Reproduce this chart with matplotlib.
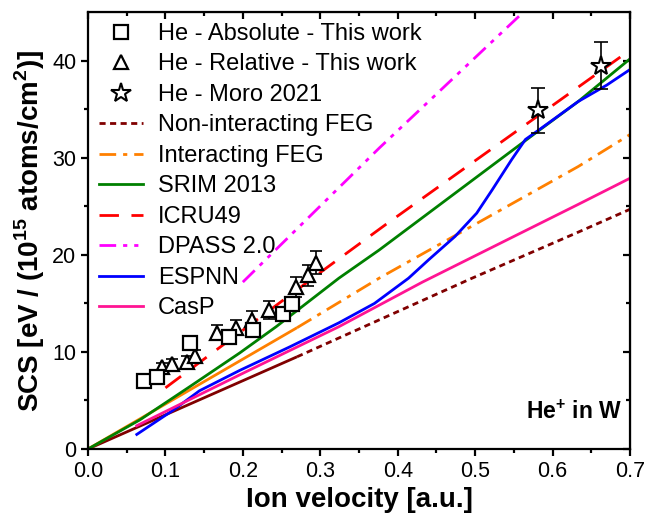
import numpy as np
import matplotlib
matplotlib.use('Agg')
import matplotlib.pyplot as plt

plt.rcParams['font.family'] = ['Liberation Sans', 'DejaVu Sans']
plt.rcParams['mathtext.fontset'] = 'custom'
plt.rcParams['mathtext.rm'] = 'Liberation Sans'
plt.rcParams['mathtext.bf'] = 'Liberation Sans:bold'

# 实验数据
abs_v = [0.072, 0.089, 0.132, 0.182, 0.213, 0.252, 0.263]
abs_s = [7.0, 7.4, 10.9, 11.5, 12.3, 13.9, 14.9]

rel_v = [0.096, 0.109, 0.128, 0.138, 0.167, 0.191, 0.212, 0.234, 0.268, 0.284, 0.295]
rel_s = [8.4, 8.8, 9.0, 9.6, 12.0, 12.5, 13.3, 14.3, 16.7, 17.9, 19.2]
rel_err = [0.5, 0.5, 0.6, 0.6, 0.8, 0.8, 0.9, 0.9, 1.0, 1.1, 1.2]

moro_v = [0.581, 0.662]
moro_s = [34.9, 39.5]
moro_err = [2.3, 2.4]

# 理论曲线
nonint_v = [0.0, 0.27, 0.496, 0.629, 0.7]
nonint_s = [0.0, 9.5, 17.6, 22.2, 24.7]

inter_v = [0.0, 0.27, 0.376, 0.633, 0.7]
inter_s = [0.0, 12.5, 17.6, 29.1, 32.4]

srim_v = [0.0, 0.067, 0.131, 0.196, 0.243, 0.324, 0.376, 0.577, 0.633, 0.7]
srim_s = [0.0, 3.0, 6.4, 9.9, 12.6, 17.6, 20.5, 32.5, 35.8, 40.2]

icru_v = [0.1, 0.307, 0.384, 0.607, 0.7]
icru_s = [6.3, 18.6, 23.1, 35.8, 41.1]

dpass_v = [0.2, 0.376, 0.57]
dpass_s = [17.2, 31.0, 45.6]

espnn_v = [0.063, 0.11, 0.144, 0.196, 0.26, 0.324, 0.37, 0.414, 0.44, 0.474,
           0.502, 0.522, 0.547, 0.565, 0.581, 0.607, 0.633, 0.67, 0.7]
espnn_s = [1.5, 4.0, 6.0, 8.1, 10.5, 13.0, 15.0, 17.6, 19.5, 21.9,
           24.3, 26.7, 29.8, 31.9, 32.8, 34.3, 35.8, 37.5, 39.1]

casp_v = [0.063, 0.2, 0.324, 0.432, 0.55, 0.633, 0.7]
casp_s = [2.4, 7.8, 12.6, 17.2, 21.9, 25.2, 27.9]


def split_plot(ax, v, s, color, dashes, label):
    """低速段画实线, 之后按线型画"""
    v = np.array(v)
    s = np.array(s)
    lo = v <= 0.27
    hi = v >= 0.27
    ax.plot(v[lo], s[lo], color=color, lw=2, solid_capstyle='butt')
    ax.plot(v[hi], s[hi], color=color, lw=2, dashes=dashes, label=label)


fig = plt.figure(figsize=(6.48, 5.19), dpi=100)
ax = fig.add_axes([0.1358, 0.1349, 0.8364, 0.8414])

# 误差棒
ax.errorbar(rel_v, rel_s, yerr=rel_err, fmt='none', ecolor='black',
            elinewidth=1.2, capsize=4, capthick=1.2, zorder=4)
ax.errorbar(moro_v, moro_s, yerr=moro_err, fmt='none', ecolor='black',
            elinewidth=1.2, capsize=5, capthick=1.2, zorder=4)

ax.plot(abs_v, abs_s, 's', ms=9.5, mfc='white', mec='black', mew=1.6,
        label='He - Absolute - This work', zorder=6)
ax.plot(rel_v, rel_s, '^', ms=10.5, mfc='white', mec='black', mew=1.6,
        label='He - Relative - This work', zorder=5)
ax.plot(moro_v, moro_s, '*', ms=15, mfc='white', mec='black', mew=1.5,
        label='He - Moro 2021', zorder=6)

split_plot(ax, nonint_v, nonint_s, '#800000', (2.2, 1.6), 'Non-interacting FEG')
split_plot(ax, inter_v, inter_s, '#FF8000', (6, 2.5, 1.5, 2.5), 'Interacting FEG')
ax.plot(srim_v, srim_s, color='#008000', lw=2, label='SRIM 2013')
ax.plot(icru_v, icru_s, color='#FF0000', lw=2, dashes=(7, 4.5), label='ICRU49')
ax.plot(dpass_v, dpass_s, color='#FF00FF', lw=2, dashes=(6, 2.5, 1.5, 2.5, 1.5, 2.5),
        label='DPASS 2.0')
ax.plot(espnn_v, espnn_s, color='#0000FF', lw=2, label='ESPNN')
ax.plot(casp_v, casp_s, color='#FF1493', lw=2, label='CasP')

ax.set_xlim(0, 0.7)
ax.set_ylim(0, 45)
ax.set_xticks(np.arange(0, 0.71, 0.1))
ax.set_xticks(np.arange(0.05, 0.7, 0.1), minor=True)
ax.set_yticks(np.arange(0, 41, 10))
ax.set_yticks(np.arange(5, 45, 10), minor=True)
ax.xaxis.set_major_formatter(matplotlib.ticker.FormatStrFormatter('%.1f'))

for sp in ax.spines.values():
    sp.set_linewidth(1.6)
ax.tick_params(which='major', direction='out', length=5, width=1.6, labelsize=15.5)
ax.tick_params(which='minor', direction='out', length=3, width=1.6)

# 顶部和右侧的内向刻度
top = ax.secondary_xaxis('top')
top.set_xticks(np.arange(0, 0.71, 0.1))
top.set_xticks(np.arange(0.05, 0.7, 0.1), minor=True)
top.tick_params(which='major', direction='in', length=5, width=1.6, labeltop=False)
top.tick_params(which='minor', direction='in', length=3, width=1.6)
right = ax.secondary_yaxis('right')
right.set_yticks(np.arange(0, 41, 10))
right.set_yticks(np.arange(5, 45, 10), minor=True)
right.tick_params(which='major', direction='in', length=5, width=1.6, labelright=False)
right.tick_params(which='minor', direction='in', length=3, width=1.6)

ax.set_xlabel('Ion velocity [a.u.]', fontsize=20, fontweight='bold', labelpad=4)
ax.set_ylabel(r'SCS [eV / (10$^{\mathbf{15}}$ atoms/cm$^{\mathbf{2}}$)]',
              fontsize=20, fontweight='bold', labelpad=4)

ax.text(0.985, 0.085, r'He$^{\mathbf{+}}$ in W', transform=ax.transAxes,
        ha='right', va='center', fontsize=16.5, fontweight='bold')

ax.legend(loc='upper left', frameon=False, fontsize=17, handlelength=1.9,
          handletextpad=0.62, labelspacing=0.36, borderaxespad=0.15,
          borderpad=0.3)

fig.savefig('out.png', dpi=100)
